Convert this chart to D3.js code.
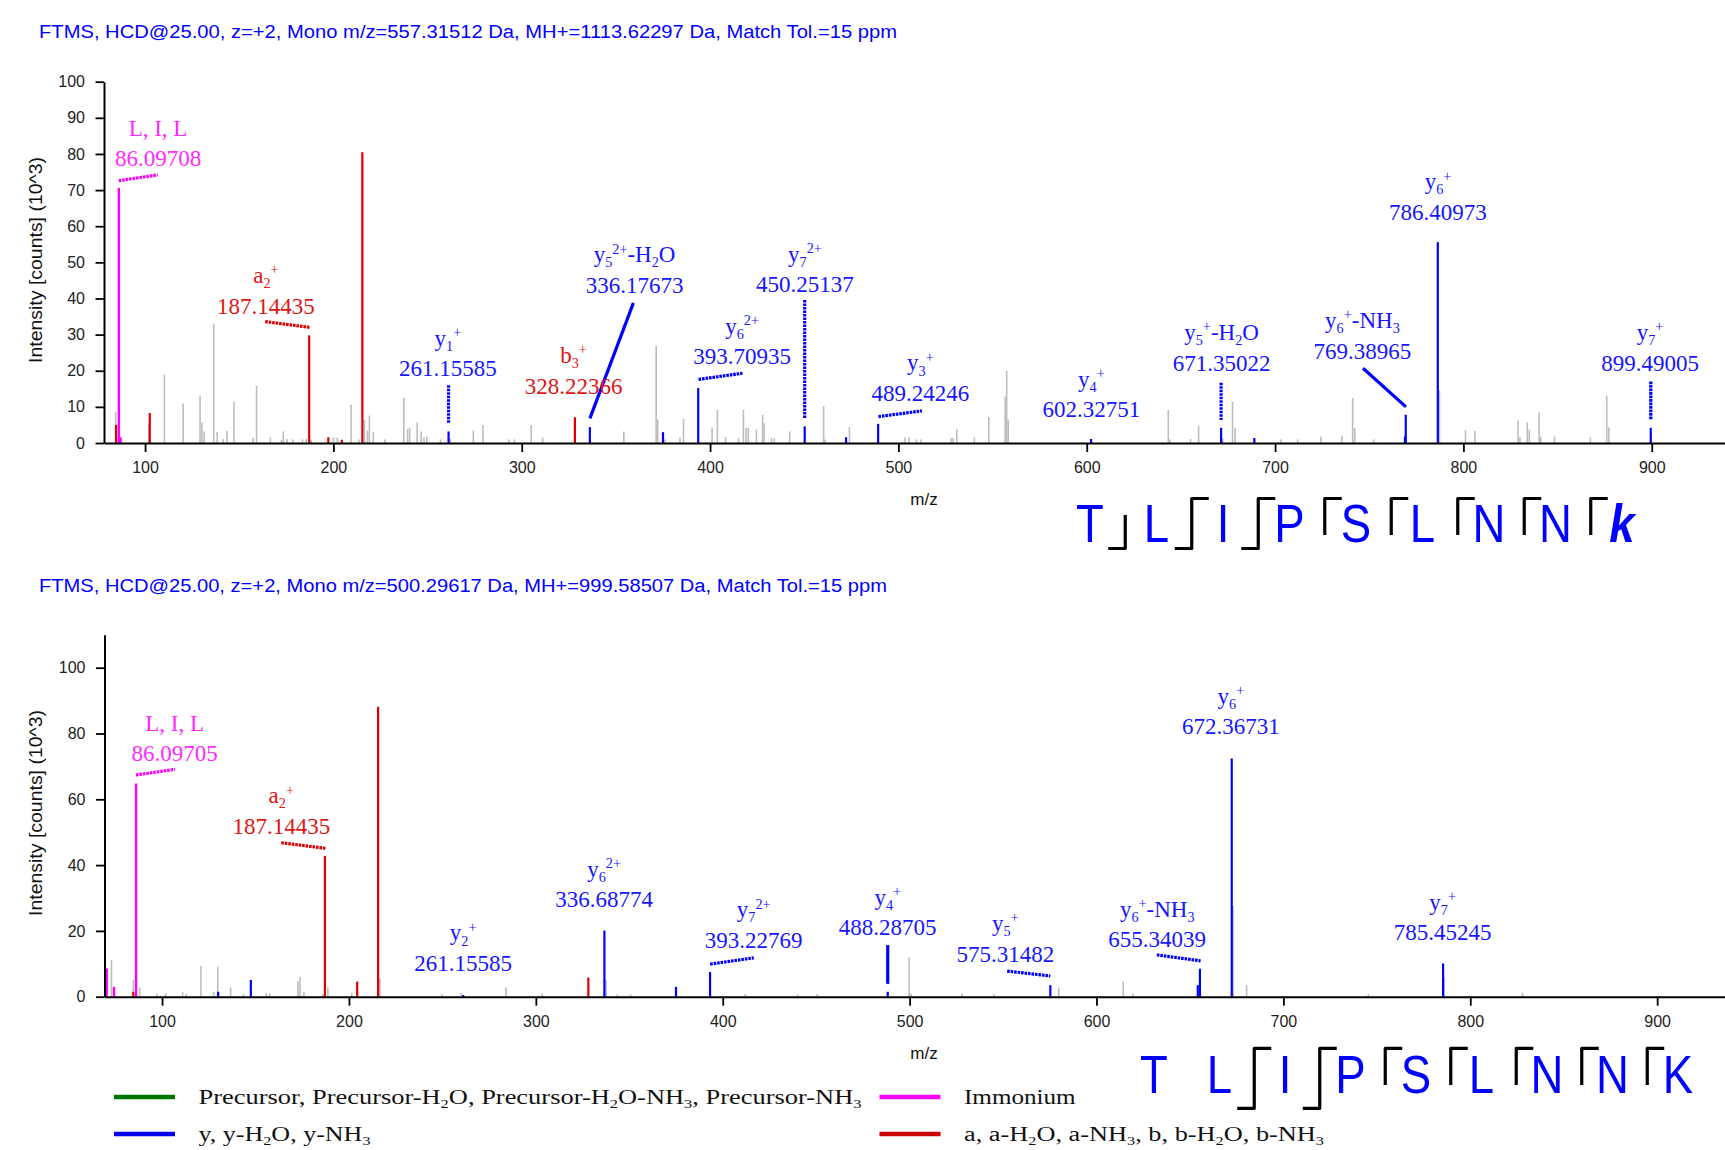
<!doctype html>
<html lang="en">
<head>
<meta charset="utf-8">
<title>Annotated MS/MS spectra</title>
<script src="https://d3js.org/d3.v7.min.js"></script>
<style>
  body { margin: 0; background: #fff; }
</style>
</head>
<body>
<svg id="chart" width="1725" height="1150" font-family="Liberation Sans, Arial, sans-serif"></svg>
<script>
// ---- data ----
var topTitle = "FTMS, HCD@25.00, z=+2, Mono m/z=557.31512 Da, MH+=1113.62297 Da, Match Tol.=15 ppm";
var bottomTitle = "FTMS, HCD@25.00, z=+2, Mono m/z=500.29617 Da, MH+=999.58507 Da, Match Tol.=15 ppm";
var yAxisTitle = "Intensity [counts] (10^3)";
var xAxisTitle = "m/z";
var xTickLabels = [100, 200, 300, 400, 500, 600, 700, 800, 900];
var topYTicks = [0, 10, 20, 30, 40, 50, 60, 70, 80, 90, 100];
var bottomYTicks = [0, 20, 40, 60, 80, 100];

// peaks as [m/z, intensity (10^3 counts)]
var topGray = [[84.4, 8.5], [102.0, 5.5], [110.3, 18.9], [120.2, 10.9], [129.2, 13.1], [130.2, 5.7], [131.4, 3.2],
  [136.5, 33.0], [138.3, 3.1], [141.5, 1.1], [143.5, 3.4], [147.2, 11.5], [157.4, 1.4], [159.2, 15.9], [166.5, 1.6],
  [172.4, 0.9], [173.4, 3.2], [175.4, 1.1], [178.5, 1.0], [183.6, 1.0], [185.6, 1.2], [188.2, 1.0], [200.1, 1.5],
  [202.1, 1.5], [209.4, 10.6], [213.6, 1.0], [216.5, 6.5], [218.1, 3.4], [219.1, 7.6], [221.2, 3.0], [227.3, 1.0],
  [237.4, 12.5], [239.4, 3.9], [240.5, 4.2], [244.5, 5.7], [246.6, 3.2], [248.1, 1.5], [249.6, 1.8], [256.9, 1.0],
  [262.1, 1.2], [274.3, 3.5], [279.4, 5.0], [293.2, 1.0], [296.2, 1.0], [305.0, 5.0], [311.1, 1.5], [354.2, 3.2],
  [371.4, 27.0], [372.2, 6.5], [376.1, 1.0], [384.0, 1.6], [385.9, 6.7], [401.1, 4.2], [403.9, 9.2], [408.3, 1.7],
  [415.1, 1.3], [417.7, 9.2], [419.1, 4.2], [420.3, 4.2], [424.6, 3.7], [427.9, 7.8], [428.7, 5.5], [432.6, 1.3],
  [434.1, 1.3], [442.3, 3.2], [460.3, 10.2], [461.1, 1.0], [474.0, 4.4], [503.6, 1.6], [505.6, 1.6], [509.6, 1.0],
  [512.1, 1.0], [528.1, 1.4], [529.1, 1.4], [531.0, 3.7], [540.3, 1.6], [548.0, 7.2], [556.7, 12.9], [557.5, 20.0],
  [558.3, 6.5], [643.3, 9.2], [644.3, 1.0], [655.1, 1.1], [659.4, 4.8], [672.3, 1.2], [677.4, 11.5], [678.8, 4.2],
  [703.1, 1.0], [712.0, 1.0], [724.3, 1.8], [735.5, 2.0], [741.2, 12.5], [742.3, 4.2], [752.5, 1.0], [787.3, 14.5],
  [801.1, 3.5], [806.1, 3.4], [829.0, 6.2], [830.0, 1.6], [833.9, 5.7], [835.0, 3.7], [840.2, 8.5], [841.0, 1.8],
  [848.4, 1.8], [867.4, 1.6], [876.1, 13.1], [877.2, 4.3]];
var topRed = [[84.6, 5.0], [102.5, 8.3], [187.144, 29.8], [197.3, 1.6], [204.5, 0.9], [215.4, 80.5], [328.224, 7.1]];
var topBlue = [[261.156, 3.2], [336.177, 4.4], [375.0, 3.0], [393.709, 15.2], [450.251, 4.6], [472.2, 1.6],
  [489.242, 5.3], [602.328, 1.1], [671.350, 4.2], [689.0, 1.4], [769.0, 1.8], [769.390, 7.8], [786.410, 55.6],
  [899.490, 4.2]];
var topImmonium = [[86.097, 70.6], [87.0, 1.6]];

var bottomGray = [[72.9, 11.1], [84.6, 5.1], [88.0, 2.8], [97.4, 1.0], [101.9, 1.0], [111.0, 1.5], [112.9, 0.8],
  [120.8, 9.3], [127.7, 1.5], [129.8, 9.1], [136.7, 2.8], [143.6, 0.8], [155.7, 1.2], [157.5, 1.0], [172.7, 4.8],
  [173.8, 6.1], [175.9, 1.5], [186.1, 1.0], [188.7, 2.8], [201.5, 1.2], [216.6, 5.6], [249.7, 0.8], [260.1, 1.2],
  [284.0, 2.8], [303.4, 1.0], [337.6, 5.0], [343.6, 0.7], [350.7, 0.7], [412.1, 0.8], [440.1, 0.7], [450.6, 0.8],
  [499.8, 12.0], [500.7, 1.0], [528.0, 1.0], [545.1, 0.8], [579.8, 2.8], [614.3, 4.6], [619.4, 1.0], [673.1, 27.6],
  [680.3, 3.5], [745.5, 0.8], [785.9, 5.8], [827.9, 1.2]];
var bottomRed = [[84.6, 1.5], [187.144, 42.8], [204.4, 4.6], [215.6, 88.1], [328.1, 5.8]];
var bottomBlue = [[130.0, 1.5], [147.5, 5.1], [261.156, 0.5], [336.688, 20.1], [375.0, 3.0], [393.228, 7.5],
  [488.287, 1.5], [575.315, 3.5], [654.2, 3.5], [655.340, 8.5], [672.367, 72.4], [785.452, 10.1]];
var bottomImmonium = [[70.4, 8.6], [74.3, 3.0], [86.097, 64.8]];

// annotated ions
var topIonNames = ["L, I, L", "a_{2}^{+}", "y_{1}^{+}", "b_{3}^{+}", "y_{5}^{2+}-H_{2}O", "y_{6}^{2+}", "y_{7}^{2+}",
  "y_{3}^{+}", "y_{4}^{+}", "y_{6}^{+}", "y_{5}^{+}-H_{2}O", "y_{6}^{+}-NH_{3}", "y_{7}^{+}"];
var topIonMz = ["86.09708", "187.14435", "261.15585", "328.22366", "336.17673", "393.70935", "450.25137",
  "489.24246", "602.32751", "786.40973", "671.35022", "769.38965", "899.49005"];
var topIonType = ["imm", "b", "y", "b", "y", "y", "y", "y", "y", "y", "y", "y", "y"];

var bottomIonNames = ["L, I, L", "a_{2}^{+}", "y_{2}^{+}", "y_{6}^{2+}", "y_{7}^{2+}", "y_{4}^{+}", "y_{5}^{+}",
  "y_{6}^{+}", "y_{6}^{+}-NH_{3}", "y_{7}^{+}"];
var bottomIonMz = ["86.09705", "187.14435", "261.15585", "336.68774", "393.22769", "488.28705", "575.31482",
  "672.36731", "655.34039", "785.45245"];
var bottomIonType = ["imm", "b", "y", "y", "y", "y", "y", "y", "y", "y"];

var topResidues = ["T", "L", "I", "P", "S", "L", "N", "N", "k"];
var topCleavage = ["b", "by", "by", "y", "y", "y", "y", "y"];
var bottomResidues = ["T", "L", "I", "P", "S", "L", "N", "N", "K"];
var bottomCleavage = ["", "by", "by", "y", "y", "y", "y", "y"];

var legendNames = ["Precursor, Precursor-H_{2}O, Precursor-H_{2}O-NH_{3}, Precursor-NH_{3}", "Immonium",
  "y, y-H_{2}O, y-NH_{3}", "a, a-H_{2}O, a-NH_{3}, b, b-H_{2}O, b-NH_{3}"];
var legendTypes = ["prec", "imm", "y", "b"];

// ---- layout (label anchors and leader lines in data units) ----
var topLabelAt = [[106.9, 78.7], [164.2, 38.0], [260.8, 20.7], [327.5, 15.8], [359.9, 43.7], [417.0, 23.9],
  [450.4, 43.9], [511.7, 13.8], [602.5, 9.3], [786.5, 63.9], [671.6, 22.2], [746.4, 25.5], [899.1, 22.2]];
var topLeaders = [[86.0, 72.6, 106.7, 74.2, 1], [163.8, 33.6, 187.6, 32.0, 1], [261.156, 16.0, 261.156, 5.3, 1], null,
  [359.3, 38.8, 336.2, 6.8, 0], [393.9, 17.6, 417.2, 19.3, 1], [450.251, 39.6, 450.251, 6.8, 1],
  [489.4, 7.3, 512.5, 8.9, 1], null, null, [671.35, 16.7, 671.35, 6.4, 1], [746.7, 20.7, 769.5, 10.0, 0],
  [899.49, 17.0, 899.49, 6.4, 1]];
var bottomLabelAt = [[106.7, 74.0], [163.8, 51.9], [261.1, 10.2], [336.5, 29.6], [416.6, 17.2], [488.3, 21.1],
  [551.2, 13.0], [671.9, 82.1], [632.5, 17.4], [785.2, 19.5]];
var bottomLeaders = [[86.0, 67.4, 106.9, 69.1, 1], [163.8, 46.8, 187.4, 45.1, 1], null, null,
  [393.3, 9.9, 416.6, 11.8, 1], [488.287, 15.7, 488.287, 3.9, 0], [552.2, 7.8, 575.3, 6.3, 1], null,
  [632.3, 12.7, 655.7, 10.9, 1], null];

var colors = { gray: "#bdbdbd", y: "#0000ff", b: "#dd0000", imm: "#ff00ff", prec: "#008000" };
var labelColors = { y: "#1515ff", b: "#e01515", imm: "#ff2aff" };
var legendColors = { y: "#0000ee", b: "#cc0000", imm: "#ff00ff", prec: "#007700" };
var serif = "Liberation Serif, Times New Roman, serif";

var svg = d3.select("#chart");
svg.append("rect").attr("width", 1725).attr("height", 1150).attr("fill", "#fff");

// text with _{sub} and ^{sup}
function richText(sel, str, size) {
  var parts = str.split(/(_\{[^}]*\}|\^\{[^}]*\})/).filter(function (s) { return s.length; });
  var shift = 0;
  parts.forEach(function (p) {
    var t = sel.append("tspan");
    var target = 0;
    if (p[0] === "_" && p[1] === "{") { target = size * 0.22; t.attr("font-size", size * 0.62); p = p.slice(2, -1); }
    else if (p[0] === "^" && p[1] === "{") { target = -size * 0.38; t.attr("font-size", size * 0.62); p = p.slice(2, -1); }
    t.attr("dy", target - shift).text(p);
    shift = target;
  });
}

function drawPanel(p) {
  var x = d3.scaleLinear().domain(p.xDomain).range(p.xRange);
  var y = d3.scaleLinear().domain(p.yDomain).range(p.yRange);
  var g = svg.append("g");

  g.append("text")
    .attr("x", 39).attr("y", p.titleY)
    .attr("font-size", 18).attr("fill", "#0000ff")
    .attr("textLength", p.titleLen).attr("lengthAdjust", "spacingAndGlyphs")
    .text(p.title);

  // peaks
  var series = [[p.gray, colors.gray, 1.6], [p.red, colors.b, 2.2], [p.blue, colors.y, 2.2], [p.imm, colors.imm, 2.4]];
  series.forEach(function (s) {
    g.append("g").selectAll("line").data(s[0]).enter().append("line")
      .attr("x1", function (d) { return x(d[0]); })
      .attr("x2", function (d) { return x(d[0]); })
      .attr("y1", y(0))
      .attr("y2", function (d) { return y(d[1]); })
      .attr("stroke", s[1]).attr("stroke-width", s[2]);
  });

  // axes
  var xMinor = d3.range(80, 940, 20).filter(function (v) { return v % 100 !== 0; });
  var gx = g.append("g").attr("transform", "translate(0," + y(0) + ")");
  gx.call(d3.axisBottom(x).tickValues(xMinor).tickSize(5).tickFormat("").tickSizeOuter(0));
  gx.call(d3.axisBottom(x).tickValues(xTickLabels).tickSize(9).tickPadding(10).tickSizeOuter(0));
  var gy = g.append("g").attr("transform", "translate(" + p.xRange[0] + ",0)");
  gy.call(d3.axisLeft(y).tickValues(p.yMinor).tickSize(5).tickFormat("").tickSizeOuter(0));
  gy.call(d3.axisLeft(y).tickValues(p.yTicks).tickSize(8.5).tickPadding(10.5).tickSizeOuter(0));
  [gx, gy].forEach(function (a) {
    a.selectAll("path").attr("stroke", "#000").attr("stroke-width", 2);
    a.selectAll("line").attr("stroke", "#000").attr("stroke-width", 1.8);
    a.selectAll("text").attr("font-size", 16).attr("fill", "#222")
      .attr("font-family", "Liberation Sans, Arial, sans-serif");
  });

  g.append("text")
    .attr("transform", "translate(42," + p.yTitleCenter + ") rotate(-90)")
    .attr("text-anchor", "middle").attr("font-size", 18).attr("fill", "#111")
    .attr("textLength", 206).attr("lengthAdjust", "spacingAndGlyphs")
    .text(yAxisTitle);
  g.append("text")
    .attr("x", 924).attr("y", p.mzLabelY)
    .attr("text-anchor", "middle").attr("font-size", 17).attr("fill", "#111")
    .text(xAxisTitle);

  // leader lines
  p.leaders.forEach(function (l, i) {
    if (!l) return;
    g.append("line")
      .attr("x1", x(l[0])).attr("y1", y(l[1]))
      .attr("x2", x(l[2])).attr("y2", y(l[3]))
      .attr("stroke", colors[p.ionType[i]]).attr("stroke-width", 3.2)
      .attr("stroke-dasharray", l[4] ? "2.6,0.9" : null);
  });

  // ion labels
  p.ionNames.forEach(function (n, i) {
    var cx = x(p.labelAt[i][0]), cy = y(p.labelAt[i][1]);
    var col = labelColors[p.ionType[i]];
    var t1 = g.append("text").attr("x", cx).attr("y", cy + 7.8 - 30.5)
      .attr("text-anchor", "middle").attr("font-size", 23).attr("fill", col)
      .attr("font-family", serif);
    richText(t1, n, 23);
    g.append("text").attr("x", cx).attr("y", cy + 7.8)
      .attr("text-anchor", "middle").attr("font-size", 23).attr("fill", col)
      .attr("font-family", serif)
      .text(p.ionMz[i]);
  });

  // sequence coverage glyph
  var sx = d3.scalePoint().domain(d3.range(p.residues.length)).range(p.seqRange);
  var sq = g.append("g");
  p.residues.forEach(function (r, i) {
    var t = sq.append("text")
      .attr("transform", "translate(" + sx(i) + "," + p.seqBase + ") scale(0.86,1)")
      .attr("text-anchor", "middle").attr("font-size", 53).attr("fill", "#0000ff")
      .text(r);
    if (r === "k") t.attr("font-weight", "bold").attr("font-style", "italic");
  });
  p.cleavage.forEach(function (c, i) {
    if (!c) return;
    var mx = (sx(i) + sx(i + 1)) / 2 + 2, tail = 17, path = "";
    if (c === "by") path = "M" + (mx - tail) + "," + p.markBottom + "H" + mx + "V" + p.markTop + "H" + (mx + tail);
    else if (c === "y") path = "M" + mx + "," + p.markYEnd + "V" + p.markTop + "H" + (mx + tail);
    else if (c === "b") path = "M" + (mx - tail) + "," + p.markBottom + "H" + mx + "V" + p.markBStart;
    sq.append("path").attr("d", path).attr("fill", "none")
      .attr("stroke", "#000").attr("stroke-width", 3.2).attr("stroke-linejoin", "round");
  });
}

drawPanel({
  title: topTitle, titleY: 38, titleLen: 858,
  xDomain: [78.2, 938.9], xRange: [104, 1725],
  yDomain: [0, 100], yRange: [443, 81.7],
  yTicks: topYTicks, yMinor: d3.range(0, 101, 2).filter(function (v) { return v % 10 !== 0; }),
  yTitleCenter: 260, mzLabelY: 505,
  gray: topGray, red: topRed, blue: topBlue, imm: topImmonium,
  ionNames: topIonNames, ionMz: topIonMz, ionType: topIonType, labelAt: topLabelAt, leaders: topLeaders,
  residues: topResidues, cleavage: topCleavage, seqRange: [1090, 1622], seqBase: 541.7,
  markTop: 498.5, markBottom: 548.5, markYEnd: 535, markBStart: 515
});

drawPanel({
  title: bottomTitle, titleY: 592, titleLen: 848,
  xDomain: [69.2, 936.3], xRange: [104.5, 1725],
  yDomain: [0, 110], yRange: [996.7, 634.8],
  yTicks: bottomYTicks, yMinor: d3.range(0, 110.1, 2.5).filter(function (v) { return v % 20 !== 0 || v > 100; }),
  yTitleCenter: 813, mzLabelY: 1059,
  gray: bottomGray, red: bottomRed, blue: bottomBlue, imm: bottomImmonium,
  ionNames: bottomIonNames, ionMz: bottomIonMz, ionType: bottomIonType, labelAt: bottomLabelAt, leaders: bottomLeaders,
  residues: bottomResidues, cleavage: bottomCleavage, seqRange: [1154, 1678], seqBase: 1093.3,
  markTop: 1048.3, markBottom: 1108.3, markYEnd: 1085, markBStart: 1070
});

// legend
var legendPos = [[114, 1097], [879.5, 1097], [114, 1134], [879.5, 1134]];
var legendWidths = [663, 111.6, 172, 360];
var lg = svg.append("g");
legendNames.forEach(function (n, i) {
  var lx = legendPos[i][0], ly = legendPos[i][1];
  lg.append("line").attr("x1", lx).attr("x2", lx + 61).attr("y1", ly).attr("y2", ly)
    .attr("stroke", legendColors[legendTypes[i]]).attr("stroke-width", 4.5);
  var t = lg.append("text").attr("x", lx + 84.5).attr("y", ly + 6.8)
    .attr("font-size", 20.5).attr("fill", "#111")
    .attr("font-family", serif)
    .attr("textLength", legendWidths[i]).attr("lengthAdjust", "spacingAndGlyphs");
  richText(t, n, 20.5);
});
</script>
</body>
</html>
